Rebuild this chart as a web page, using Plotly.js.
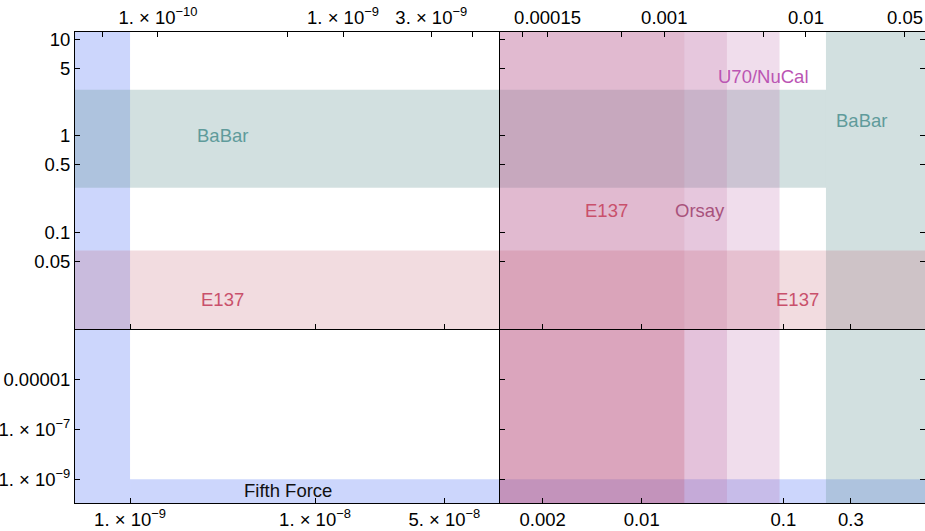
<!DOCTYPE html>
<html>
<head>
<meta charset="utf-8">
<script src="https://cdn.plot.ly/plotly-3.0.1.min.js"></script>
<style>html,body{margin:0;padding:0;background:#fff;}#chart{width:925px;height:531px;}</style>
</head>
<body>
<div id="chart"></div>
<script>
// ---- data ----
// boundaries of the excluded regions (mass on the bottom scale, coupling on the vertical scale)
const fifthForceMassMax = 1e-9;
const fifthForceCouplingMax = 1e-9;
const babarCouplingBand = [0.29, 3.0];
const babarMassMin = 0.2;
const e137CouplingMax = 0.065;
const e137MassMax = 0.02;
const orsayMassMax = 0.04;
const u70MassMax = 0.094;

// tick labels
const bottomLeftTicks = [1e-9, 1e-8, 5e-8];
const bottomLeftText = ['1. × 10<sup>−9</sup>', '1. × 10<sup>−8</sup>', '5. × 10<sup>−8</sup>'];
const bottomRightTicks = [0.002, 0.01, 0.1, 0.3];
const bottomRightText = ['0.002', '0.01', '0.1', '0.3'];
const topLeftTicks = [1e-10, 1e-9, 3e-9];
const topLeftText = ['1. × 10<sup>−10</sup>', '1. × 10<sup>−9</sup>', '3. × 10<sup>−9</sup>'];
const topLeftMinor = [5e-11, 5e-10, 5e-9];
const topRightTicks = [1.5e-4, 1e-3, 1e-2, 5e-2];
const topRightText = ['0.00015', '0.001', '0.01', '0.05'];
const topRightMinor = [1e-4, 5e-4, 5e-3];
const upperYTicks = [10, 5, 1, 0.5, 0.1, 0.05];
const upperYText = ['10', '5', '1', '0.5', '0.1', '0.05'];
const lowerYTicks = [1e-5, 1e-7, 1e-9];
const lowerYText = ['0.00001', '1. × 10<sup>−7</sup>', '1. × 10<sup>−9</sup>'];

// labels: text, panel, mass, coupling
const labelText = ['BaBar', 'E137', 'BaBar', 'E137', 'Orsay', 'E137', 'U70/NuCal', 'Fifth Force'];
const labelPanel = ['TL', 'TL', 'TR', 'TR', 'TR', 'TR', 'TR', 'BL'];
const labelMass = [3.18e-9, 3.18e-9, 0.355, 0.00564, 0.0256, 0.1256, 0.0723, 7.1e-9];
const labelCoupling = [1.0, 0.02, 1.43, 0.17, 0.17, 0.02, 4.08, 3.4e-10];
const labelColor = ['#5f9b9b', '#c9506b', '#5f9b9b', '#c9506b', '#a8527c', '#c9506b', '#bb55b3', '#111111'];

// ---- styling ----
const LO = 1e-30, HI = 1e30;
const BLUE = 'rgba(85,118,245,0.30)';
const TEAL = 'rgba(105,152,152,0.30)';
const U70C = 'rgba(180,85,160,0.20)';
const ORSAY_T = 'rgba(190,116,166,0.20)';
const ORSAY_B = 'rgba(190,116,166,0.25)';
const E137H = 'rgba(190,80,100,0.20)';
const E137V_T = 'rgba(190,80,100,0.10)';
const E137V_B = 'rgba(190,80,100,0.25)';

const AX = {TL: ['x3', 'y3'], TR: ['x4', 'y4'], BL: ['x', 'y'], BR: ['x2', 'y2']};

function rect(panel, x0, x1, y0, y1, color) {
  return {type: 'scatter', mode: 'lines', x: [x0, x1, x1, x0, x0], y: [y0, y0, y1, y1, y0],
    fill: 'toself', fillcolor: color, line: {width: 0, color: 'rgba(0,0,0,0)'},
    hoverinfo: 'skip', showlegend: false, xaxis: AX[panel][0], yaxis: AX[panel][1]};
}

const traces = [
  // top-left
  rect('TL', LO, fifthForceMassMax, LO, HI, BLUE),
  rect('TL', LO, HI, babarCouplingBand[0], babarCouplingBand[1], TEAL),
  rect('TL', LO, HI, LO, e137CouplingMax, E137H),
  // bottom-left
  rect('BL', LO, fifthForceMassMax, LO, HI, BLUE),
  rect('BL', fifthForceMassMax, HI, LO, fifthForceCouplingMax, BLUE),
  // bottom-right
  rect('BR', LO, HI, LO, fifthForceCouplingMax, BLUE),
  rect('BR', babarMassMin, HI, LO, HI, TEAL),
  rect('BR', LO, u70MassMax, LO, HI, U70C),
  rect('BR', LO, orsayMassMax, LO, HI, ORSAY_B),
  rect('BR', LO, e137MassMax, LO, HI, E137V_B),
  // top-right
  rect('TR', LO, babarMassMin, babarCouplingBand[0], babarCouplingBand[1], TEAL),
  rect('TR', babarMassMin, HI, LO, HI, TEAL),
  rect('TR', LO, u70MassMax, LO, HI, U70C),
  rect('TR', LO, orsayMassMax, LO, HI, ORSAY_T),
  rect('TR', LO, e137MassMax, LO, HI, E137V_T),
  rect('TR', LO, HI, LO, e137CouplingMax, E137H),
  // carriers for the upper tick-label axes
  {type: 'scatter', mode: 'lines', x: [], y: [], xaxis: 'x5', yaxis: 'y3', showlegend: false},
  {type: 'scatter', mode: 'lines', x: [], y: [], xaxis: 'x6', yaxis: 'y4', showlegend: false}
];

const FONT = 'Liberation Sans, Arial, Helvetica, sans-serif';
const base = {type: 'log', ticks: 'inside', ticklen: 5, tickwidth: 1, tickcolor: '#000',
  showline: true, linecolor: '#000', linewidth: 1, showgrid: false, zeroline: false,
  tickmode: 'array', fixedrange: true, tickfont: {family: FONT, size: 18.5, color: '#000'}};
const ax = (o) => Object.assign({}, base, o);
const minorTicks = (vals) => ({tickmode: 'array', tickvals: vals, ticks: 'inside', ticklen: 5, tickwidth: 1, tickcolor: '#000', showgrid: false});

const bf = 174 / 471;
const leftRange = [Math.log10(5.04e-10), -7.0];
const rightRange = [-3.0, 0.0];
const upperY = [-2.0, 1.0735];
const lowerY = [-9.95, -3.0];

const annotations = labelText.map((t, i) => ({
  text: t, xref: AX[labelPanel[i]][0], yref: AX[labelPanel[i]][1],
  x: Math.log10(labelMass[i]), y: Math.log10(labelCoupling[i]),
  showarrow: false, font: {family: FONT, size: 18.5, color: labelColor[i]}
}));

const layout = {
  width: 925, height: 531, margin: {l: 75, r: 0, t: 32, b: 28},
  paper_bgcolor: '#fff', plot_bgcolor: '#fff', showlegend: false,
  xaxis: ax({domain: [0, 0.5], anchor: 'y', range: leftRange, tickvals: bottomLeftTicks, ticktext: bottomLeftText}),
  xaxis2: ax({domain: [0.5, 1], anchor: 'y2', range: rightRange, tickvals: bottomRightTicks, ticktext: bottomRightText}),
  xaxis3: ax({domain: [0, 0.5], anchor: 'y3', range: leftRange, tickvals: bottomLeftTicks, showticklabels: false}),
  xaxis4: ax({domain: [0.5, 1], anchor: 'y4', range: rightRange, tickvals: bottomRightTicks, showticklabels: false}),
  xaxis5: ax({overlaying: 'x3', side: 'top', anchor: 'y3', range: [-10.4486, -8.1514], tickvals: topLeftTicks, ticktext: topLeftText, minor: minorTicks(topLeftMinor)}),
  xaxis6: ax({overlaying: 'x4', side: 'top', anchor: 'y4', range: [-4.1595, -1.1595], tickvals: topRightTicks, ticktext: topRightText, minor: minorTicks(topRightMinor)}),
  yaxis: ax({domain: [0, bf], anchor: 'x', range: lowerY, tickvals: lowerYTicks, ticktext: lowerYText}),
  yaxis2: ax({domain: [0, bf], anchor: 'x2', range: lowerY, tickvals: lowerYTicks, showticklabels: false, mirror: 'ticks'}),
  yaxis3: ax({domain: [bf, 1], anchor: 'x3', range: upperY, tickvals: upperYTicks, ticktext: upperYText}),
  yaxis4: ax({domain: [bf, 1], anchor: 'x4', range: upperY, tickvals: upperYTicks, showticklabels: false, mirror: 'ticks'}),
  annotations: annotations
};

Plotly.newPlot('chart', traces, layout, {staticPlot: true, displayModeBar: false});
</script>
</body>
</html>
